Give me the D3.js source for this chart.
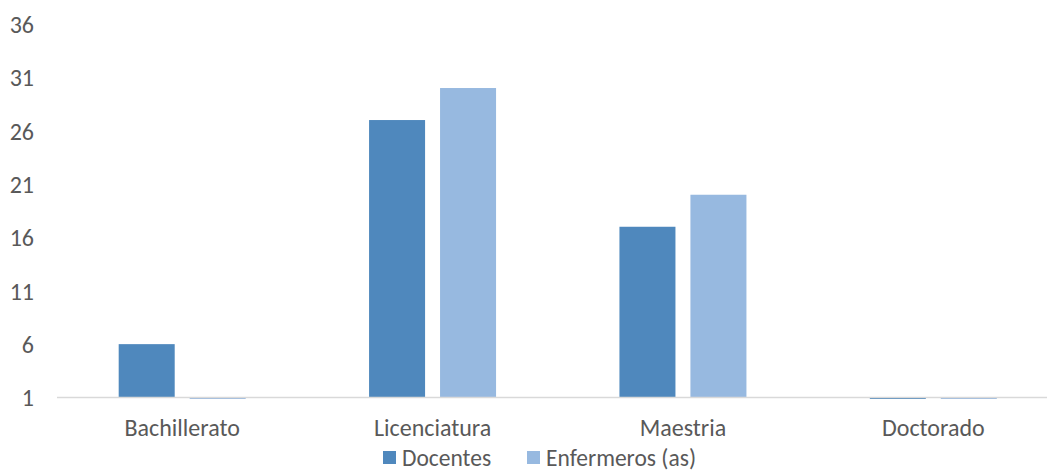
<!DOCTYPE html>
<html>
<head>
<meta charset="utf-8">
<script src="https://cdn.jsdelivr.net/npm/d3@7"></script>
<style>
  html, body { margin: 0; padding: 0; background: #fff; }
  svg { display: block; }
  svg text { font-family: Carlito, Lato, "Open Sans", sans-serif; }
</style>
</head>
<body>
<svg id="chart" width="1047" height="471"></svg>
<script>
// Nivel de estudios por grupo
const categories = ["Bachillerato", "Licenciatura", "Maestria", "Doctorado"];
const seriesNames = ["Docentes", "Enfermeros (as)"];
const docentes = [6, 27, 17, 0];
const enfermeros = [0, 30, 20, 0];
const yTicks = [1, 6, 11, 16, 21, 26, 31, 36];
const colors = ["#4f88bd", "#97b9e0"];

const seriesValues = [docentes, enfermeros];
const rows = categories.map((c, i) => ({
  category: c,
  values: seriesNames.map((s, j) => ({ series: s, idx: j, value: seriesValues[j][i] }))
}));

const svg = d3.select("#chart");
const plot = { left: 57, right: 1058.5, top: 24, bottom: 397.5 };
const fontSize = 24;

const x0 = d3.scaleBand().domain(categories).range([plot.left, plot.right]).padding(0);
const groupWidth = 127;
const x1 = d3.scaleBand().domain(seriesNames).range([0, groupWidth]).paddingInner(0.211).paddingOuter(0);
const y = d3.scaleLinear().domain([1, 36]).range([plot.bottom, plot.top]);

// Plot-area clip: values under the axis minimum show only as a sliver below the axis
svg.append("defs").append("clipPath").attr("id", "plotClip")
  .append("rect")
  .attr("x", plot.left).attr("y", plot.top - 2)
  .attr("width", plot.right - plot.left).attr("height", plot.bottom - plot.top + 3.5);

// Y axis labels (no line, no ticks)
const yAxis = d3.axisLeft(y).tickValues(yTicks).tickSize(0).tickPadding(0);
const gy = svg.append("g").attr("transform", "translate(34,0)").call(yAxis)
  .attr("font-family", null).attr("font-size", null);
gy.select(".domain").remove();
gy.selectAll("text")
  .attr("fill", "#595959").attr("font-size", fontSize)
  .attr("text-anchor", "end").attr("dy", "0.35em");

// Bars
const groups = svg.append("g").attr("clip-path", "url(#plotClip)")
  .selectAll("g").data(rows).join("g")
  .attr("transform", d => `translate(${x0(d.category) + x0.bandwidth() / 2 - groupWidth / 2},0)`);

groups.selectAll("rect").data(d => d.values).join("rect")
  .attr("x", d => x1(d.series))
  .attr("width", x1.bandwidth())
  .attr("y", d => Math.min(y(d.value), y(1)))
  .attr("height", d => Math.abs(y(d.value) - y(1)))
  .attr("fill", d => colors[d.idx]);

// Category axis
const xAxis = d3.axisBottom(x0).tickSize(0).tickPadding(0);
const gx = svg.append("g").attr("transform", `translate(0,${plot.bottom})`).call(xAxis)
  .attr("font-family", null).attr("font-size", null);
gx.select(".domain").remove();
gx.selectAll("text")
  .attr("fill", "#595959").attr("font-size", fontSize)
  .attr("dy", "0").attr("y", 38);
svg.append("line")
  .attr("x1", plot.left).attr("x2", plot.right)
  .attr("y1", plot.bottom).attr("y2", plot.bottom)
  .attr("stroke", "#d9d9d9").attr("stroke-width", 1.5);

// Legend
const legendItems = [{ name: seriesNames[0], x: 383 }, { name: seriesNames[1], x: 527 }];
const legend = svg.append("g").selectAll("g").data(legendItems).join("g")
  .attr("transform", d => `translate(${d.x},451)`);
legend.append("rect").attr("width", 13).attr("height", 13)
  .attr("fill", (d, i) => colors[i]);
legend.append("text").attr("x", 19).attr("y", 14.5)
  .attr("fill", "#595959").attr("font-size", 23.5)
  .text(d => d.name);
</script>
</body>
</html>
